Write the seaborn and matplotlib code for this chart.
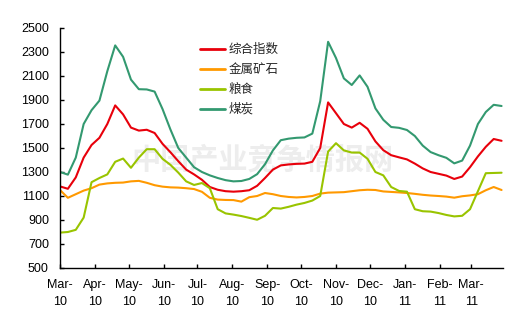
import numpy as np
import pandas as pd
import matplotlib
matplotlib.use("Agg")
import matplotlib.pyplot as plt
import matplotlib.dates as mdates
import seaborn as sns

# Weekly price indices, March 2010 - March 2011
dates = pd.date_range("2010-03-01", periods=57, freq="7D")

composite = [1180, 1160, 1255, 1420, 1525, 1585, 1700, 1855, 1780, 1670,
             1645, 1652, 1625, 1535, 1465, 1390, 1320, 1280, 1235, 1175,
             1152, 1140, 1136, 1140, 1148, 1185, 1250, 1320, 1355, 1363,
             1368, 1370, 1385, 1500, 1880, 1790, 1700, 1670, 1710, 1660,
             1555, 1482, 1440, 1422, 1405, 1370, 1330, 1300, 1285, 1270,
             1242, 1262, 1340, 1430, 1510, 1575, 1560]

metal_ore = [1150, 1085, 1115, 1145, 1165, 1195, 1205, 1210, 1212, 1222,
             1226, 1210, 1190, 1178, 1172, 1170, 1165, 1158, 1135, 1085,
             1070, 1067, 1066, 1053, 1090, 1100, 1125, 1115, 1100, 1092,
             1088, 1092, 1100, 1120, 1128, 1130, 1132, 1140, 1148, 1152,
             1150, 1138, 1134, 1130, 1125, 1118, 1110, 1104, 1100, 1095,
             1086, 1098, 1105, 1115, 1148, 1175, 1150]

grain = [795, 800, 818, 920, 1215, 1250, 1280, 1385, 1412, 1335,
         1420, 1490, 1490, 1410, 1360, 1295, 1222, 1192, 1208, 1165,
         990, 955, 945, 933, 918, 902, 935, 1000, 995, 1010,
         1028, 1042, 1062, 1100, 1470, 1540, 1480, 1462, 1462, 1410,
         1300, 1272, 1175, 1142, 1136, 990, 973, 970, 958, 942,
         930, 935, 990, 1140, 1290, 1292, 1294]

coal = [1300, 1278, 1420, 1700, 1815, 1895, 2140, 2355, 2260, 2070,
        1990, 1988, 1970, 1825, 1655, 1500, 1420, 1340, 1300, 1272,
        1250, 1232, 1222, 1225, 1242, 1282, 1365, 1480, 1565, 1578,
        1585, 1588, 1620, 1890, 2385, 2250, 2080, 2025, 2105, 2010,
        1830, 1735, 1675, 1668, 1650, 1600, 1520, 1466, 1440, 1418,
        1372, 1395, 1520, 1700, 1800, 1860, 1850]

series_names = ["综合指数", "金属矿石", "粮食", "煤炭"]
series_colors = ["#E8000B", "#FF9900", "#99C400", "#339970"]

month_ticks = pd.date_range("2010-03-01", "2011-03-01", freq="MS")
month_labels = [d.strftime("%b-\n%y") for d in month_ticks]
y_ticks = list(range(500, 2501, 200))

df = pd.DataFrame({"date": dates, "综合指数": composite, "金属矿石": metal_ore,
                   "粮食": grain, "煤炭": coal})
long = df.melt(id_vars="date", var_name="series", value_name="value")

sns.set_theme(style="white")
plt.rcParams["font.family"] = ["Liberation Sans", "Noto Sans CJK SC", "DejaVu Sans"]

fig = plt.figure(figsize=(5.26, 3.31), dpi=100)
ax = fig.add_axes([60 / 526, 63 / 331, 442.7 / 526, 240 / 331])

# faint site watermark, kept underneath the lines
ax.text(262 / 526, 1 - 160 / 331, "中国产业竞争情报网", ha="center", va="center",
        fontsize=21, color="#ededed", fontweight="bold",
        family=["Noto Sans CJK SC"], transform=fig.transFigure, zorder=0.5)

sns.lineplot(data=long, x="date", y="value", hue="series", hue_order=series_names,
             palette=series_colors, linewidth=1.5, ax=ax, legend=True)
for line in ax.get_lines():
    line.set_solid_joinstyle("round")
    line.set_zorder(2)

ax.set_xlim(pd.Timestamp("2010-03-01"), pd.Timestamp("2011-03-29"))
ax.set_ylim(500, 2500)
ax.set_yticks(y_ticks)
ax.set_yticklabels([str(v) for v in y_ticks], fontsize=9)
ax.set_xticks(month_ticks)
ax.set_xticklabels(month_labels, fontsize=9, linespacing=1.5)
ax.set_xlabel("")
ax.set_ylabel("")

for side in ["top", "right"]:
    ax.spines[side].set_visible(False)
for side in ["left", "bottom"]:
    ax.spines[side].set_color("black")
    ax.spines[side].set_linewidth(1.0)
ax.tick_params(axis="both", direction="in", length=3, width=1, color="black",
               labelcolor="black", left=True, bottom=True)
ax.tick_params(axis="y", pad=8)
ax.tick_params(axis="x", pad=8)

leg = ax.legend(loc="upper left", bbox_to_anchor=(189 / 526, 1 - 32 / 331),
                bbox_transform=fig.transFigure, frameon=False,
                handlelength=2.0, handletextpad=0.25, labelspacing=0.55,
                prop={"family": ["Noto Sans CJK SC"], "size": 9})
for line in leg.get_lines():
    line.set_linewidth(2.0)

fig.savefig("out.png", dpi=100)
